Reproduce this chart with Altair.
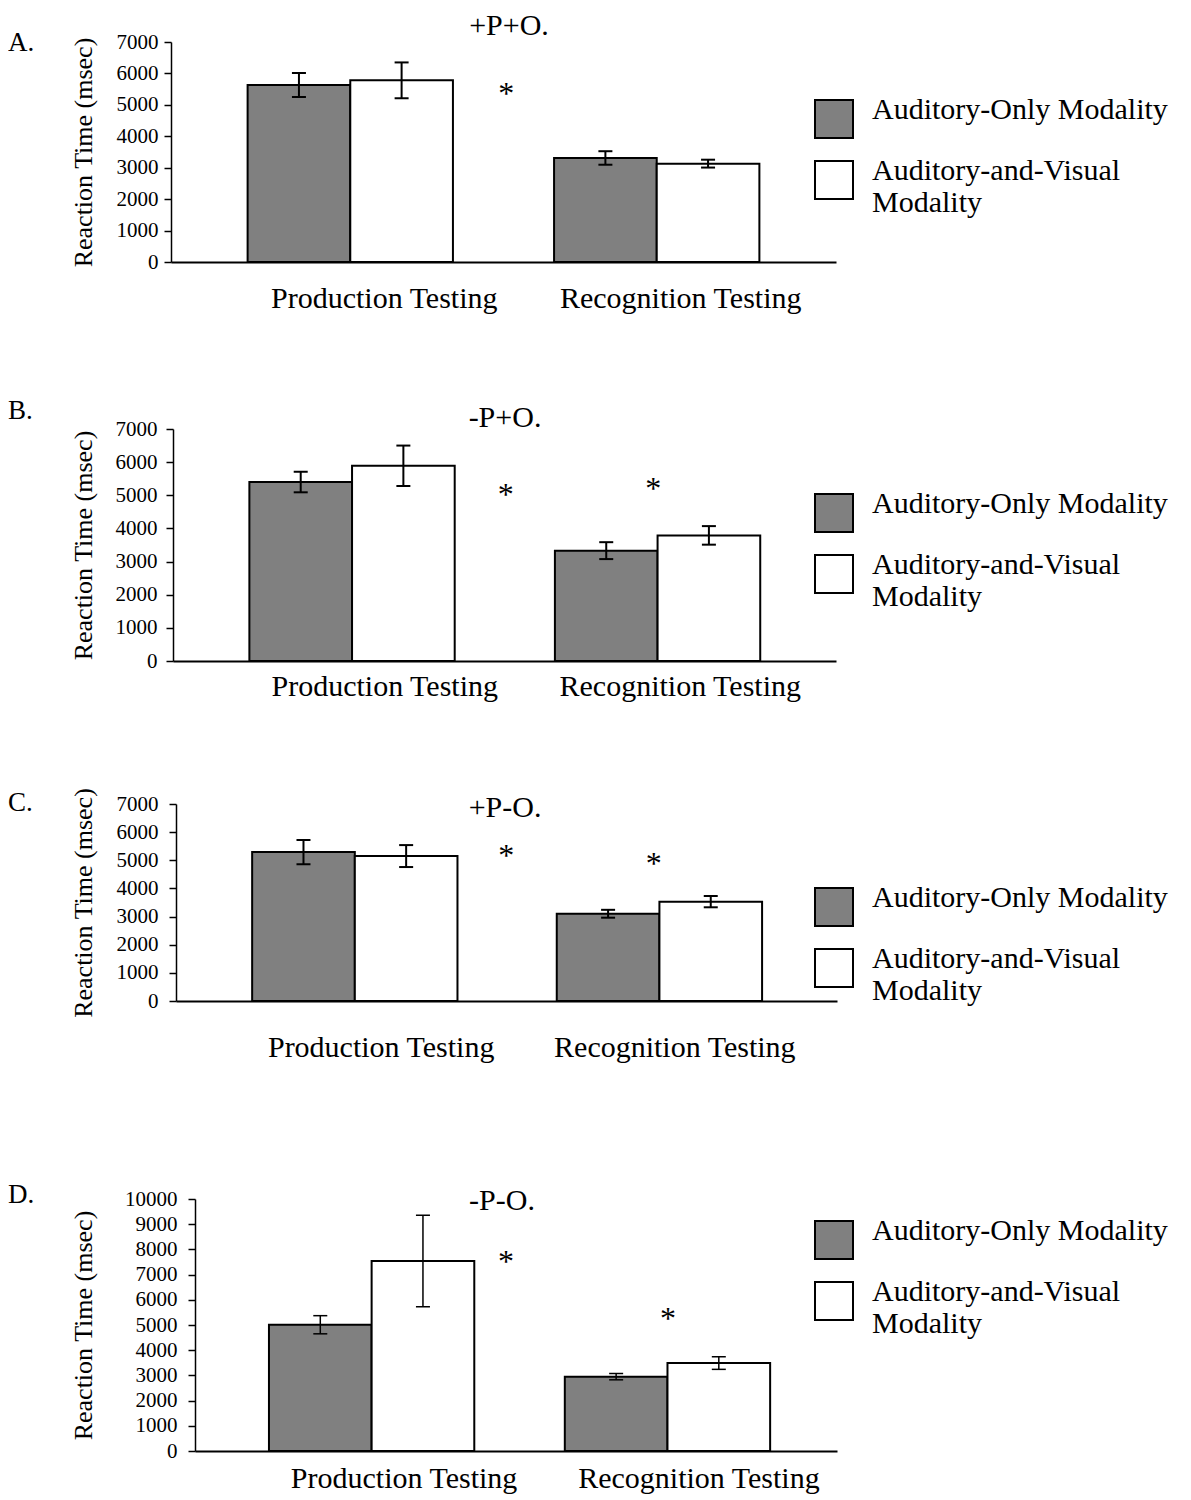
import altair as alt
import pandas as pd

# ---------------- data ----------------
tests = ["Production Testing", "Recognition Testing"]
modalities = ["Auditory-Only Modality", "Auditory-and-Visual Modality"]
letters = ["A.", "B.", "C.", "D."]
conditions = ["+P+O.", "-P+O.", "+P-O.", "-P-O."]

# mean reaction time (msec): [prod AO, prod AV, rec AO, rec AV]
means_A = [5630, 5780, 3310, 3130]
means_B = [5400, 5890, 3330, 3790]
means_C = [5290, 5150, 3100, 3530]
means_D = [5010, 7540, 2950, 3490]
# error bar half-lengths (msec)
errs_A = [380, 570, 215, 125]
errs_B = [310, 610, 255, 280]
errs_C = [430, 390, 140, 200]
errs_D = [360, 1820, 125, 250]
# significance asterisks height (msec) for [production, recognition]; None = no asterisk
stars_A = [5520, None]
stars_B = [5150, 5330]
stars_C = [5316, 5032]
stars_D = [7697, 5450]
y_max = [7000, 7000, 7000, 10000]

means = [means_A, means_B, means_C, means_D]
errs = [errs_A, errs_B, errs_C, errs_D]
stars = [stars_A, stars_B, stars_C, stars_D]

# ---------------- layout / style per panel ----------------
W = 666
P_IN, P_OUT = 0.33, 0.25
layout = [
    dict(x0=0, x1=665, h=220, xlp=21, xlo=(34, 24), ylp=6, ytp=20, ly=57, lety=9, tx=338, ty=-7, sdx=(156, 0), ew=2),
    dict(x0=2, x1=665, h=232, xlp=10, xlo=(33, 23), ylp=9, ytp=19, ly=64, lety=-10, tx=334, ty=-2, sdx=(154, -4), ew=2),
    dict(x0=5, x1=666, h=197, xlp=31, xlo=(27, 16), ylp=11, ytp=20, ly=83, lety=7, tx=334, ty=13, sdx=(152, -5), ew=2),
    dict(x0=24, x1=666, h=252, xlp=12, xlo=(36, 35), ylp=11, ytp=28, ly=21, lety=4, tx=331, ty=11, sdx=(138, 4), ew=1.5),
]

FONT = "Liberation Serif"


def panel(i):
    L = layout[i]
    rows = []
    k = 0
    for t in tests:
        for m in modalities:
            rows.append({"test": t, "modality": m, "rt": means[i][k],
                         "lo": means[i][k] - errs[i][k], "hi": means[i][k] + errs[i][k]})
            k += 1
    df = pd.DataFrame(rows)
    ymax = y_max[i]

    step = (L["x1"] - L["x0"]) / (2 - P_IN + 2 * P_OUT)
    bandwidth = step * (1 - P_IN)

    label_offset = {"condition": {"test": f"datum.value == '{tests[0]}'", "value": L["xlo"][0]},
                    "value": L["xlo"][1]}
    x_enc = alt.X("test:N", sort=tests,
                  scale=alt.Scale(range=[L["x0"], L["x1"]], paddingInner=P_IN, paddingOuter=P_OUT),
                  axis=alt.Axis(title=None, labelAngle=0, labelFontSize=30, labelColor="black", labelFont=FONT,
                                labelPadding=L["xlp"], labelOffset=label_offset, ticks=False, tickSize=0,
                                domainColor="black", domainWidth=2, labelLimit=400))
    xo_enc = alt.XOffset("modality:N", sort=modalities,
                         scale=alt.Scale(range=[0, bandwidth], paddingInner=0, paddingOuter=0))
    y_axis = alt.Axis(title="Reaction Time (msec)", values=list(range(0, ymax + 1, 1000)), format="d",
                      grid=False, labelFontSize=21, labelColor="black", labelFont=FONT, labelPadding=L["ylp"],
                      tickSize=7, tickWidth=1.5, tickColor="black", domainColor="black", domainWidth=1.5,
                      titleFontSize=26, titleFontWeight="normal", titleColor="black", titleFont=FONT,
                      titlePadding=L["ytp"], offset=-L["x0"])
    y_scale = alt.Scale(domain=[0, ymax], nice=False)

    def Y(field):
        return alt.Y(field, type="quantitative", scale=y_scale, axis=y_axis)

    color = alt.Color("modality:N", sort=modalities,
                      scale=alt.Scale(domain=modalities, range=["#808080", "#ffffff"]),
                      legend=alt.Legend(title=None, orient="none", legendX=643, legendY=L["ly"],
                                        symbolType="square", symbolSize=1444, symbolStrokeColor="black",
                                        symbolStrokeWidth=2, symbolOpacity=1, labelFontSize=30, labelFont=FONT,
                                        labelColor="black", labelLimit=500, labelOffset=18,
                                        labelBaseline="alphabetic", rowPadding=14, padding=0,
                                        labelExpr="datum.label == 'Auditory-and-Visual Modality' ? ['Auditory-and-Visual', 'Modality'] : datum.label"))

    base = alt.Chart(df)
    bars = base.mark_bar(stroke="black", strokeWidth=2).encode(x=x_enc, xOffset=xo_enc, y=Y("rt"), color=color)
    rules = base.mark_rule(color="black", strokeWidth=L["ew"]).encode(
        x=x_enc, xOffset=xo_enc, y=Y("lo"), y2="hi:Q")
    cap_hi = base.mark_tick(color="black", size=14, thickness=L["ew"], opacity=1).encode(
        x=x_enc, xOffset=xo_enc, y=Y("hi"))
    cap_lo = base.mark_tick(color="black", size=14, thickness=L["ew"], opacity=1).encode(
        x=x_enc, xOffset=xo_enc, y=Y("lo"))
    layers = [bars, rules, cap_hi, cap_lo]

    for j, t in enumerate(tests):
        sv = stars[i][j]
        if sv is None:
            continue
        sdf = pd.DataFrame({"test": [t], "star": [sv], "mark": ["*"]})
        layers.append(alt.Chart(sdf).mark_text(fontSize=32, font=FONT, baseline="alphabetic", dx=L["sdx"][j],
                                                dy=15, color="black").encode(
            x=x_enc, y=Y("star"), text="mark:N"))

    ldf = pd.DataFrame({"letter": [letters[i]], "cond": [conditions[i]]})
    layers.append(alt.Chart(ldf).mark_text(fontSize=27, font=FONT, align="left", baseline="alphabetic",
                                           color="black").encode(
        x=alt.value(-163), y=alt.value(L["lety"]), text="letter:N"))
    layers.append(alt.Chart(ldf).mark_text(fontSize=30, font=FONT, align="center", baseline="alphabetic",
                                           color="black").encode(
        x=alt.value(L["tx"]), y=alt.value(L["ty"]), text="cond:N"))

    return alt.layer(*layers).properties(width=W, height=L["h"])


pA, pB, pC, pD = [panel(i) for i in range(4)]

cd = alt.vconcat(pC, pD, spacing=119).resolve_scale(color="independent")
bcd = alt.vconcat(pB, cd, spacing=86).resolve_scale(color="independent")
chart = alt.vconcat(pA, bcd, spacing=84).resolve_scale(color="independent")

chart = chart.properties(padding={"left": 0, "top": 3, "right": 5, "bottom": 5}, background="white") \
    .configure(font=FONT) \
    .configure_view(stroke=None)

chart.save("out.html", embed_options={"renderer": "svg", "actions": False})
